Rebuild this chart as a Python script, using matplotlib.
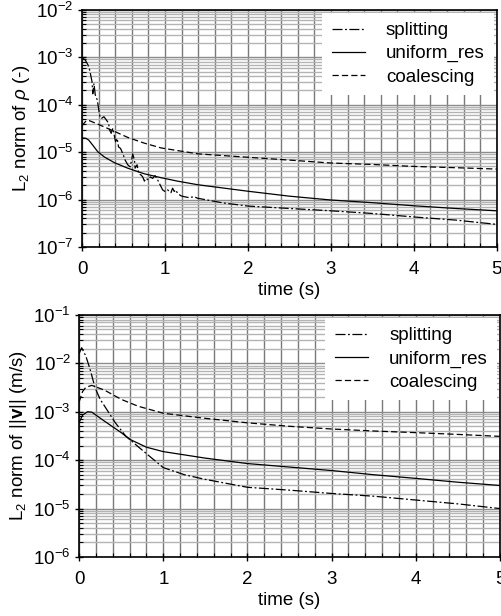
import numpy as np
import matplotlib.pyplot as plt
from matplotlib.ticker import MultipleLocator, LogLocator, NullFormatter

plt.rcParams['font.family'] = ['Liberation Sans', 'DejaVu Sans']
plt.rcParams['mathtext.fontset'] = 'custom'
plt.rcParams['mathtext.rm'] = 'Liberation Sans'
plt.rcParams['mathtext.it'] = 'Liberation Sans:italic'
plt.rcParams['mathtext.bf'] = 'Liberation Sans:bold'
FS = 13.5

# === DENSITY ERROR (top) ===
t_rho_split = [0.012, 0.04, 0.072, 0.092, 0.12, 0.13, 0.144, 0.16, 0.184, 0.212,
               0.232, 0.264, 0.292, 0.32, 0.332, 0.352, 0.372, 0.392, 0.404, 0.424,
               0.44, 0.464, 0.492, 0.52, 0.552, 0.58, 0.612, 0.632, 0.64, 0.664,
               0.684, 0.712, 0.732, 0.752, 0.772, 0.8, 0.824, 0.852, 0.88, 0.912,
               0.944, 0.972, 1.0, 1.032, 1.072, 1.092, 1.112, 1.13, 1.152, 1.192,
               1.232, 1.29, 1.352, 1.39, 1.7, 2.0, 2.5, 3.0, 3.5, 4.0, 4.5, 5.0]
rho_split = [9.5e-4, 8.7e-4, 6.9e-4, 5.4e-4, 3.1e-4, 1.7e-4, 2.8e-4, 1.6e-4, 1.26e-4, 6.0e-5,
             5.1e-5, 5.6e-5, 4.8e-5, 4.1e-5, 2.95e-5, 2.5e-5, 3.2e-5, 2.1e-5, 1.66e-5, 1.95e-5,
             1.29e-5, 1.2e-5, 9.3e-6, 6.8e-6, 5.4e-6, 4.9e-6, 9.1e-6, 6.8e-6, 4.6e-6, 5.4e-6,
             3.5e-6, 3.3e-6, 3.0e-6, 2.45e-6, 2.8e-6, 2.6e-6, 3.0e-6, 2.8e-6, 3.2e-6, 2.6e-6,
             2.0e-6, 1.6e-6, 1.48e-6, 1.6e-6, 1.4e-6, 1.74e-6, 1.48e-6, 1.6e-6, 1.35e-6, 1.2e-6,
             1.15e-6, 1.1e-6, 1.15e-6, 1.07e-6, 8.5e-7, 7.3e-7, 6.5e-7, 5.8e-7, 5.1e-7, 4.3e-7, 3.7e-7, 3.0e-7]

t_rho_unif = [0.0, 0.05, 0.08, 0.13, 0.19, 0.27, 0.39, 0.55, 0.75, 0.95, 1.15, 1.4,
              2.0, 2.5, 3.0, 3.5, 4.0, 4.5, 5.0]
rho_unif = [2.0e-5, 1.95e-5, 1.8e-5, 1.4e-5, 1.02e-5, 7.9e-6, 6.0e-6, 4.6e-6, 3.5e-6, 2.9e-6,
            2.45e-6, 2.05e-6, 1.5e-6, 1.18e-6, 9.8e-7, 8.6e-7, 7.4e-7, 6.5e-7, 5.8e-7]

t_rho_coal = [0.0, 0.05, 0.09, 0.19, 0.35, 0.55, 0.75, 0.95, 1.15, 1.4,
              2.0, 2.5, 3.0, 3.5, 4.0, 4.5, 5.0]
rho_coal = [3.6e-5, 4.6e-5, 4.6e-5, 3.9e-5, 2.95e-5, 2.05e-5, 1.55e-5, 1.23e-5, 1.08e-5, 9.2e-6,
            7.8e-6, 6.8e-6, 5.9e-6, 5.5e-6, 5.0e-6, 4.7e-6, 4.4e-6]

# === VELOCITY ERROR (bottom) ===
t_v_split = [0.0, 0.03, 0.08, 0.13, 0.19, 0.25, 0.33, 0.43, 0.55, 0.7, 0.85, 1.0,
             1.25, 1.5, 2.0, 2.5, 3.0, 3.5, 4.0, 4.5, 5.0]
v_split = [1.6e-2, 2.1e-2, 1.4e-2, 7.5e-3, 3.1e-3, 1.8e-3, 1.1e-3, 5.9e-4, 3.2e-4, 1.9e-4,
           1.15e-4, 7.0e-5, 5.0e-5, 4.0e-5, 2.75e-5, 2.4e-5, 2.05e-5, 1.8e-5, 1.5e-5, 1.25e-5, 1.0e-5]

t_v_unif = [0.0, 0.04, 0.1, 0.15, 0.3, 0.5, 0.6, 0.8, 1.0, 1.5, 2.0, 2.5, 3.0,
            3.5, 4.0, 4.5, 5.0]
v_unif = [6.0e-4, 8.5e-4, 1.0e-3, 9.8e-4, 6.4e-4, 3.7e-4, 2.7e-4, 1.85e-4, 1.5e-4, 1.1e-4,
          8.5e-5, 7.2e-5, 6.1e-5, 5.0e-5, 4.2e-5, 3.5e-5, 3.0e-5]

t_v_coal = [0.0, 0.04, 0.08, 0.15, 0.3, 0.5, 0.7, 1.0, 1.5, 2.0, 2.5, 3.0, 3.5,
            4.0, 4.5, 5.0]
v_coal = [1.6e-3, 2.6e-3, 3.2e-3, 3.5e-3, 2.8e-3, 1.8e-3, 1.3e-3, 9.3e-4, 7.3e-4, 5.9e-4,
          5.0e-4, 4.4e-4, 4.0e-4, 3.7e-4, 3.4e-4, 3.1e-4]

labels = ["splitting", "uniform_res", "coalescing"]
styles = [(0, (8, 2, 1.5, 2)), '-', (0, (5, 2.5))]


def setup_axes(ax, ylim, ylabel):
    ax.set_yscale('log')
    ax.set_xlim(0, 5)
    ax.set_ylim(*ylim)
    ax.xaxis.set_major_locator(MultipleLocator(1))
    ax.xaxis.set_minor_locator(MultipleLocator(0.2))
    ax.yaxis.set_major_locator(LogLocator(base=10, numticks=10))
    ax.yaxis.set_minor_locator(LogLocator(base=10, subs=np.arange(2, 10), numticks=20))
    ax.yaxis.set_minor_formatter(NullFormatter())
    ax.grid(True, which='both', axis='x', color='#7a7a7a', lw=1.0)
    ax.grid(True, which='major', axis='y', color='#8c8c8c', lw=1.0)
    ax.grid(True, which='minor', axis='y', color='#b4b4b4', lw=1.0)
    ax.tick_params(which='major', direction='inout', length=6, width=1, labelsize=FS)
    ax.tick_params(axis='x', which='major', pad=7)
    ax.tick_params(axis='y', which='major', pad=3)
    ax.tick_params(which='minor', direction='in', length=3, width=0.8)
    for sp in ax.spines.values():
        sp.set_linewidth(1.2)
    ax.set_xlabel("time (s)", fontsize=FS, labelpad=3)
    ax.set_ylabel(ylabel, fontsize=FS, labelpad=3)
    ax.set_axisbelow(True)


fig = plt.figure(figsize=(5.01, 6.16), dpi=100)
ax1 = fig.add_axes([0.1637, 0.599, 0.828, 0.385])
ax2 = fig.add_axes([0.158, 0.0958, 0.840, 0.393])

for ax, data in [(ax1, [(t_rho_split, rho_split), (t_rho_unif, rho_unif), (t_rho_coal, rho_coal)]),
                 (ax2, [(t_v_split, v_split), (t_v_unif, v_unif), (t_v_coal, v_coal)])]:
    for (t, y), lab, ls in zip(data, labels, styles):
        ax.plot(t, y, color='black', lw=0.9, linestyle=ls, label=lab)
    leg = ax.legend(loc='upper right', fontsize=FS, handlelength=1.8, handletextpad=1.1,
                    borderaxespad=0.15, borderpad=0.5, labelspacing=0.32,
                    fancybox=False, framealpha=1.0)
    leg.get_frame().set_edgecolor('none')
    leg.get_frame().set_facecolor('white')

setup_axes(ax1, (1e-7, 1e-2), r'L$_2$ norm of $\rho$ (-)')
setup_axes(ax2, (1e-6, 1e-1), r'L$_2$ norm of ||$\mathbf{v}$|| (m/s)')

plt.savefig("out.png", dpi=100)
